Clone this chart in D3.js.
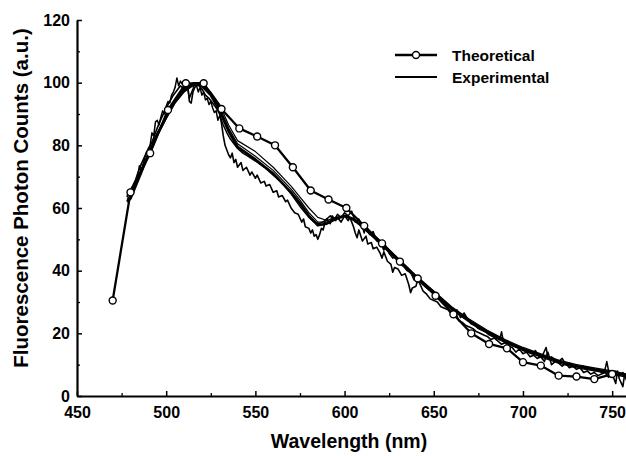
<!DOCTYPE html>
<html>
<head>
<meta charset="utf-8">
<script src="https://cdn.jsdelivr.net/npm/d3@7"></script>
<style>
  body { margin: 0; background: #fff; }
  svg { display: block; font-family: "Liberation Sans", Arial, sans-serif; }
  .tick text { font-weight: bold; font-size: 16px; fill: #000; }
</style>
</head>
<body>
<div id="chart"></div>
<script>
const width = 626, height = 456;

// theoretical curve (with circles)
const theoWl  = [470, 480, 491, 501, 511, 521, 531, 541, 551, 561, 571, 581, 591, 601, 611, 621, 631, 641, 651, 661, 671, 681, 691, 700, 710, 720, 730, 740, 750];
const theoVal = [30.5, 65, 77.5, 91.3, 99.8, 99.8, 91.6, 85.4, 82.8, 80, 73, 65.6, 62.7, 60, 54.3, 48.7, 42.9, 37.5, 32, 26.1, 20, 16.6, 15.2, 10.8, 9.7, 6.5, 6.2, 5.4, 7];

// smooth experimental fits
const fitWl   = [478, 480, 485, 490, 495, 500, 505, 510, 515, 520, 525, 530, 535, 540, 550, 560, 570, 575, 580, 585, 590, 595, 600, 605, 610, 620, 630, 640, 650, 660, 670, 680, 690, 700, 710, 720, 730, 740, 750, 758];
const fitThick = [62, 63, 70, 77, 83.5, 89, 94, 97.5, 99.5, 99, 96, 91, 84.5, 79.5, 75.5, 71, 65, 61.5, 57.5, 54.5, 55, 56.5, 57.5, 56.5, 54, 49, 43.5, 38, 33, 28, 24, 20.5, 17.5, 15, 13, 11, 9.5, 8.5, 7.5, 6.5];
const fitThinA = [63, 64, 71, 77.5, 84, 89.5, 94.5, 98, 100, 100, 97, 93, 86.5, 81.5, 78, 73, 67, 63.5, 60, 57, 56, 57, 57.5, 56.5, 54.5, 49.5, 44, 38.5, 33.5, 28.5, 24.5, 21, 18, 15.5, 13.5, 11.5, 10, 9, 8, 7];
const fitThinB = [62.5, 63.5, 70.5, 77, 83, 88.5, 93.5, 97, 99, 99.5, 96.5, 92, 85.5, 80.5, 76.5, 72, 66, 62.5, 58.5, 55.5, 55.5, 56.5, 57.5, 56, 54, 48.5, 43, 37.5, 32.5, 27.5, 23.5, 20, 17, 14.5, 12.5, 10.5, 9, 8, 7, 6];

// noisy experimental traces
const noisyAWl = [478, 480, 482, 484, 486, 488, 490, 492, 494, 496, 498, 500, 502, 504, 506, 508, 510, 512, 513, 514, 515, 516, 518, 520, 522, 524, 526, 528, 530, 531, 532, 533, 534, 535, 536, 537, 538, 539, 540, 542, 543, 545, 547, 548, 550, 551, 553, 555, 556, 558, 560, 562, 563, 565, 567, 568, 570, 572, 574, 576, 577, 578, 580, 581, 582, 583, 584, 585, 586, 587, 588, 589, 590, 592, 593, 595, 596, 598, 600, 602, 603, 605, 606, 607, 608, 610, 612, 613, 615, 616, 618, 620, 621, 622, 624, 626, 627, 628, 630, 632, 634, 636, 637, 638, 640, 641, 642, 644, 646, 648, 650, 652, 654, 656, 658, 660, 662, 664, 666, 668, 670, 672, 674, 676, 678, 680, 682, 684, 686, 688, 690, 692, 694, 696, 698, 700, 702, 704, 706, 708, 710, 712, 714, 715, 716, 718, 720, 722, 724, 726, 728, 730, 732, 734, 736, 738, 740, 742, 744, 746, 748, 750, 752, 753, 754, 756, 757, 758];
const noisyAVal = [63.5, 66, 67.5, 71, 74, 76.5, 79, 81, 84, 87, 89.5, 92, 94, 96, 97.5, 99, 98, 99.5, 94, 93.5, 97, 98.5, 99.5, 98, 96, 95, 93.5, 92, 90, 87, 83, 80, 78.5, 77, 76, 77.5, 74.5, 75.5, 73, 74.5, 72, 73, 70.5, 71.5, 69.5, 70.5, 68, 68.5, 67, 67.5, 65, 65.5, 63.5, 64, 62, 62.5, 60, 58.5, 58, 55.5, 56.5, 54, 53.5, 52, 53, 51, 51.5, 50, 51.5, 53.5, 53, 55.5, 56.5, 55, 57.5, 56, 57, 55.5, 57.5, 56, 57, 54, 52, 50.5, 53, 49.5, 51, 48.5, 49, 47, 47.5, 45.5, 44, 46, 43, 42, 39.5, 41, 40.5, 38.5, 39, 35.5, 33, 34.5, 35, 37, 36, 33.5, 32.5, 31, 30.5, 30, 28.5, 28, 27.5, 26, 27, 24, 23.5, 22.5, 22, 21.5, 20.5, 20, 19.5, 19, 18, 18.5, 17.5, 16.5, 17, 16, 15.5, 14, 15, 13.5, 14, 12.5, 13, 12, 12.5, 11, 14, 12, 10, 11, 10.5, 9.5, 10.5, 9, 9.5, 8.5, 9, 7.5, 8, 7, 7.5, 6.5, 7, 7.5, 6, 7, 4, 8, 5.5, 3, 7, 5];

const noisyBWl = [478, 480, 482, 484, 485, 486, 488, 489, 490, 491, 492, 493, 494, 495, 496, 497, 498, 499, 500, 501, 502, 503, 504, 505, 506, 507, 508, 509, 510, 511, 512, 513, 514, 515, 516, 517, 518, 519, 520, 521, 522, 523, 524, 525, 526, 527, 528, 529, 530, 532, 534, 536, 538, 540, 543, 546, 550, 555, 560, 565, 570, 575, 580, 583, 586, 589, 592, 594, 596, 598, 600, 602, 604, 606, 608, 610, 611, 612, 614, 616, 618, 620, 622, 623, 625, 627, 629, 631, 633, 635, 637, 639, 641, 643, 645, 647, 649, 651, 653, 655, 657, 659, 661, 663, 665, 667, 669, 671, 673, 675, 677, 679, 681, 683, 685, 687, 688, 689, 691, 693, 695, 697, 699, 701, 703, 705, 707, 709, 711, 713, 714, 716, 718, 720, 722, 724, 726, 728, 730, 732, 734, 736, 738, 740, 742, 744, 746, 747, 748, 750, 752, 754, 756, 758];
const noisyBVal = [64, 65.5, 68, 70, 73.5, 72, 76, 78, 77, 80, 84, 83, 87.5, 88, 86.5, 89, 91, 90, 92.5, 94, 93.5, 96, 97, 98.5, 101.5, 99, 100.5, 99.5, 100, 97.5, 98.5, 95, 96.5, 98, 100, 99, 97, 98.5, 96, 97, 94.5, 95, 93, 94, 92, 90.5, 91, 88, 89.5, 86.5, 84, 82, 80.5, 79, 77.5, 76.5, 75, 73, 70.5, 68, 64.5, 60.5, 57, 55.5, 55, 56, 57.5, 56, 58, 57, 58.5, 57.5, 59, 55.5, 56.5, 54, 52, 55, 51.5, 52.5, 49.5, 49, 46.5, 48, 45.5, 44, 44.5, 42, 41.5, 40, 39.5, 37, 38, 36, 35, 34, 33.5, 32, 31.5, 30, 29, 28.5, 27, 27.5, 25, 26.5, 24.5, 23, 22.5, 21.5, 21, 20.5, 19.5, 19, 18.5, 18, 20.5, 17.5, 17, 16.5, 16, 15.5, 15, 14.5, 14, 13.5, 14.5, 12.5, 13, 15.5, 12, 12.5, 11.5, 11, 12, 10, 10.5, 9.5, 10, 9, 9.5, 8.5, 9, 8, 8.5, 7.5, 8.5, 11, 8, 7.5, 8, 6.5, 7.5, 6];

const xMajor = [450, 500, 550, 600, 650, 700, 750];
const xMinor = [475, 525, 575, 625, 675, 725];
const yMajor = [0, 20, 40, 60, 80, 100, 120];
const yMinor = [10, 30, 50, 70, 90, 110];

const legendLabels = ["Theoretical", "Experimental"];

const svg = d3.select("#chart").append("svg")
  .attr("width", width)
  .attr("height", height);

const x = d3.scaleLinear().domain([450, 760]).range([77, 630]);
const y = d3.scaleLinear().domain([0, 120]).range([396, 20]);

const zip = (xs, ys) => xs.map((w, i) => [w, ys[i]]);
const line = d3.line().x(d => x(d[0])).y(d => y(d[1]));

const plot = svg.append("g");

function drawLine(xs, ys, w) {
  plot.append("path")
    .datum(zip(xs, ys))
    .attr("d", line)
    .attr("fill", "none")
    .attr("stroke", "#000")
    .attr("stroke-width", w)
    .attr("stroke-linejoin", "round");
}

drawLine(noisyAWl, noisyAVal, 1.6);
drawLine(noisyBWl, noisyBVal, 1.5);
drawLine(fitWl, fitThinA, 1.2);
drawLine(fitWl, fitThinB, 1.2);
drawLine(fitWl, fitThick, 2.6);
drawLine(theoWl, theoVal, 2.3);

plot.selectAll("circle.theo")
  .data(zip(theoWl, theoVal))
  .enter()
  .append("circle")
  .attr("class", "theo")
  .attr("cx", d => x(d[0]))
  .attr("cy", d => y(d[1]))
  .attr("r", 3.5)
  .attr("fill", "#fff")
  .attr("stroke", "#000")
  .attr("stroke-width", 1.4);

// axes, ticks pointing inward
svg.append("g")
  .attr("transform", `translate(0,${y(0)})`)
  .call(d3.axisBottom(x).tickValues(xMinor).tickSize(-3).tickFormat(""))
  .call(g => g.select(".domain").remove())
  .selectAll("line").attr("stroke-width", 1.3);

svg.append("g")
  .attr("transform", `translate(${x(450)},0)`)
  .call(d3.axisLeft(y).tickValues(yMinor).tickSize(-3).tickFormat(""))
  .call(g => g.select(".domain").remove())
  .selectAll("line").attr("stroke-width", 1.3);

const xAxis = svg.append("g")
  .attr("transform", `translate(0,${y(0)})`)
  .call(d3.axisBottom(x).tickValues(xMajor).tickSize(-5).tickPadding(11).tickSizeOuter(0));
xAxis.select(".domain").attr("stroke-width", 2.2);
xAxis.selectAll("line").attr("stroke-width", 1.5);

const yAxis = svg.append("g")
  .attr("transform", `translate(${x(450)},0)`)
  .call(d3.axisLeft(y).tickValues(yMajor).tickSize(-5).tickPadding(7).tickSizeOuter(0));
yAxis.select(".domain").attr("stroke-width", 2.2);
yAxis.selectAll("line").attr("stroke-width", 1.5);

// axis titles
svg.append("text")
  .attr("x", 349)
  .attr("y", 448)
  .attr("text-anchor", "middle")
  .style("font-size", "19.5px")
  .style("font-weight", "bold")
  .text("Wavelength (nm)");

svg.append("text")
  .attr("transform", "rotate(-90)")
  .attr("x", -198)
  .attr("y", 28)
  .attr("text-anchor", "middle")
  .style("font-size", "20.5px")
  .style("font-weight", "bold")
  .text("Fluorescence Photon Counts (a.u.)");

// legend
const legend = svg.append("g").attr("transform", "translate(395,55)");
legendLabels.forEach((lab, i) => {
  const row = legend.append("g").attr("transform", `translate(0,${i * 22})`);
  row.append("line")
    .attr("x1", 0).attr("x2", 42)
    .attr("stroke", "#000")
    .attr("stroke-width", i === 0 ? 2.3 : 1.8);
  if (i === 0) {
    row.append("circle")
      .attr("cx", 21).attr("r", 3.5)
      .attr("fill", "#fff").attr("stroke", "#000").attr("stroke-width", 1.4);
  }
  row.append("text")
    .attr("x", 57)
    .attr("y", 5.5)
    .style("font-size", "15.5px")
    .style("font-weight", "bold")
    .text(lab);
});
</script>
</body>
</html>
